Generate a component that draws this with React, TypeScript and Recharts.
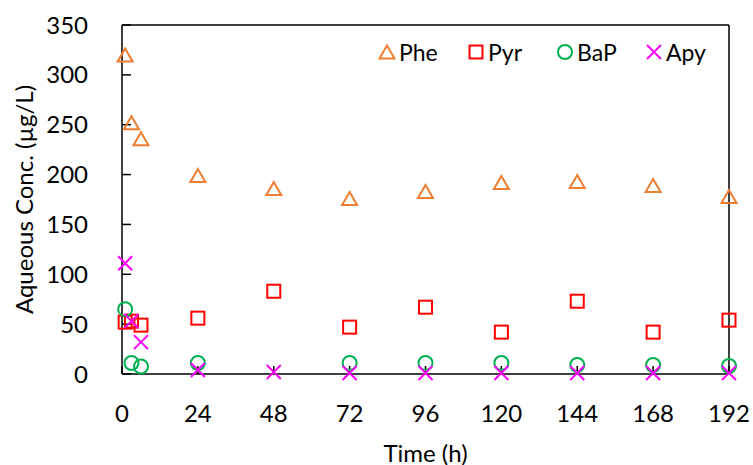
import React from "react";
import {
  ScatterChart,
  Scatter,
  XAxis,
  YAxis,
  ReferenceLine,
  Legend,
  Label,
} from "recharts";

// ---- data ----
const xTicks = [0, 24, 48, 72, 96, 120, 144, 168, 192];
const yTicks = [0, 50, 100, 150, 200, 250, 300, 350];

const pheTimes = [1, 3, 6, 24, 48, 72, 96, 120, 144, 168, 192];
const pheValues = [320, 252, 236, 199, 186, 176, 183, 192, 193, 189, 178];

const pyrTimes = [1, 3, 6, 24, 48, 72, 96, 120, 144, 168, 192];
const pyrValues = [52, 53, 49, 56, 83, 47, 67, 42, 73, 42, 54];

const bapTimes = [1, 3, 6, 24, 72, 96, 120, 144, 168, 192];
const bapValues = [65, 11, 7.5, 11, 11, 11, 11, 9, 9, 8];

const apyTimes = [1, 3, 6, 24, 48, 72, 96, 120, 144, 168, 192];
const apyValues = [111, 53, 32, 4, 2, 1, 1, 1, 1, 1, 1];

const seriesNames = ["Phe", "Pyr", "BaP", "Apy"];

const toPoints = (ts: number[], vs: number[]) => ts.map((t, i) => ({ t, v: vs[i] }));

const pheData = toPoints(pheTimes, pheValues);
const pyrData = toPoints(pyrTimes, pyrValues);
const bapData = toPoints(bapTimes, bapValues);
const apyData = toPoints(apyTimes, apyValues);

// ---- styles ----
const COLORS = {
  Phe: "#ED7D31",
  Pyr: "#FF0000",
  BaP: "#00B050",
  Apy: "#FF00FF",
};
const FONT = "Lato, 'Open Sans', sans-serif";
const SW = 2;

const Triangle = ({ cx, cy }: any) => (
  <polygon
    points={`${cx},${cy - 6.5} ${cx - 7.5},${cy + 6.5} ${cx + 7.5},${cy + 6.5}`}
    fill="none"
    stroke={COLORS.Phe}
    strokeWidth={SW}
  />
);
const Square = ({ cx, cy }: any) => (
  <rect x={cx - 6.5} y={cy - 6.5} width={13} height={13} fill="none" stroke={COLORS.Pyr} strokeWidth={SW} />
);
const CircleM = ({ cx, cy }: any) => (
  <circle cx={cx} cy={cy} r={7} fill="none" stroke={COLORS.BaP} strokeWidth={SW} />
);
const Cross = ({ cx, cy }: any) => (
  <g stroke={COLORS.Apy} strokeWidth={SW}>
    <line x1={cx - 7} y1={cy - 7} x2={cx + 7} y2={cy + 7} />
    <line x1={cx - 7} y1={cy + 7} x2={cx + 7} y2={cy - 7} />
  </g>
);

const markerFor = (name: string) => {
  const c = 9;
  switch (name) {
    case "Phe":
      return <Triangle cx={c} cy={c} />;
    case "Pyr":
      return <Square cx={c} cy={c} />;
    case "BaP":
      return <CircleM cx={c} cy={c} />;
    default:
      return <Cross cx={c} cy={c} />;
  }
};

const renderLegend = () => (
  <div style={{ position: "relative", width: 360, height: 28 }}>
    {seriesNames.map((n, i) => (
      <div
        key={n}
        style={{
          position: "absolute",
          left: i * 89,
          top: 0,
          height: 28,
          display: "flex",
          alignItems: "center",
        }}
      >
        <svg width={18} height={18} style={{ overflow: "visible" }}>
          {markerFor(n)}
        </svg>
        <span style={{ marginLeft: 3, fontFamily: FONT, fontSize: 23, color: "#000", lineHeight: "28px" }}>{n}</span>
      </div>
    ))}
  </div>
);

const YTitle = (props: any) => {
  const vb = props.viewBox || {};
  const x = vb.x + 23;
  const y = vb.y + vb.height / 2;
  return (
    <text
      x={x}
      y={y}
      transform={`rotate(-90 ${x} ${y})`}
      textAnchor="middle"
      dominantBaseline="central"
      fontFamily={FONT}
      fontSize={24}
      fill="#000"
    >
      Aqueous Conc. (µg/L)
    </text>
  );
};

const XTitle = (props: any) => {
  const vb = props.viewBox || {};
  const x = vb.x + vb.width / 2;
  const y = vb.y + 78;
  return (
    <text x={x} y={y} textAnchor="middle" dominantBaseline="central" fontFamily={FONT} fontSize={24} fill="#000">
      Time (h)
    </text>
  );
};

export default function App() {
  return (
    <div style={{ position: "absolute", left: 0, top: 0, width: 753, height: 465, background: "#fff" }}>
      <ScatterChart width={753} height={465} margin={{ top: 25, right: 24, bottom: 0, left: 0 }}>
        <XAxis
          type="number"
          dataKey="t"
          domain={[0, 192]}
          ticks={xTicks}
          interval={0}
          height={91}
          axisLine={{ stroke: "#000", strokeWidth: 1.5 }}
          tickLine={{ stroke: "#000", strokeWidth: 1.5 }}
          tickSize={-8}
          tickMargin={39}
          tick={{ fill: "#000", fontSize: 24, fontFamily: FONT }}
        >
          <Label content={<XTitle />} />
        </XAxis>
        <YAxis
          type="number"
          dataKey="v"
          domain={[0, 350]}
          ticks={yTicks}
          interval={0}
          width={122}
          axisLine={{ stroke: "#000", strokeWidth: 1.5 }}
          tickLine={{ stroke: "#000", strokeWidth: 1.5 }}
          tickSize={-9}
          tickMargin={43}
          tick={{ fill: "#000", fontSize: 24, fontFamily: FONT }}
        >
          <Label content={<YTitle />} />
        </YAxis>
        <ReferenceLine y={350} stroke="#000" strokeWidth={1.5} ifOverflow="visible" />
        <ReferenceLine x={192} stroke="#000" strokeWidth={1.5} ifOverflow="visible" />
        <Legend
          layout="horizontal"
          verticalAlign="middle"
          align="center"
          content={renderLegend}
          wrapperStyle={{ top: 38, left: 378, width: 360, height: 28 }}
        />
        <Scatter name="Phe" data={pheData} shape={<Triangle />} isAnimationActive={false} />
        <Scatter name="Pyr" data={pyrData} shape={<Square />} isAnimationActive={false} />
        <Scatter name="BaP" data={bapData} shape={<CircleM />} isAnimationActive={false} />
        <Scatter name="Apy" data={apyData} shape={<Cross />} isAnimationActive={false} />
      </ScatterChart>
    </div>
  );
}
